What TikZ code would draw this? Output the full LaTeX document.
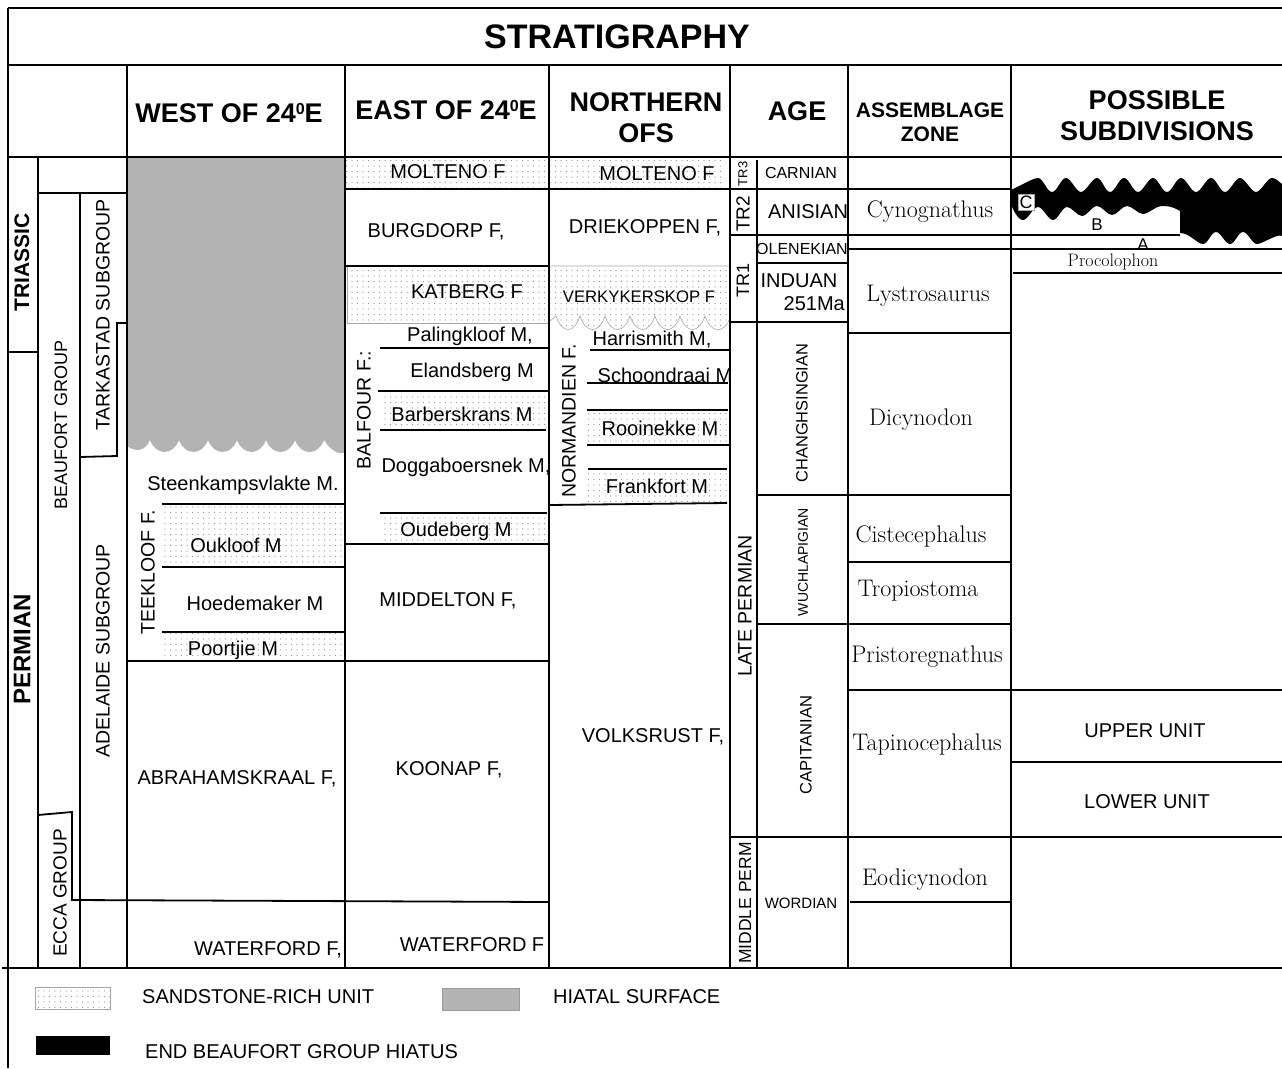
\documentclass[tikz,border=0pt]{standalone}
\usepackage{fontspec}
\setsansfont{Liberation Sans}
\usetikzlibrary{patterns.meta}
\definecolor{hiatusgray}{RGB}{179,179,179}
\newcommand{\degsup}{{\fontsize{16}{16}\selectfont\raisebox{8pt}{0}}}
\begin{document}
\begin{tikzpicture}[x=1pt,y=-1pt,
 ln/.style={line width=1.8pt},
 thinln/.style={line width=0.6pt, draw=gray!70},
 sand/.style={pattern={Dots[distance=5.5pt,radius=0.55pt]}, pattern color=gray!85},
 txt/.style={font=\sffamily\fontsize{#1}{#1}\selectfont, inner sep=0pt},
 txt/.default=20,
 hd/.style={font=\sffamily\bfseries\fontsize{#1}{#1}\selectfont, inner sep=0pt, align=center},
 hd/.default=27,
 zn/.style={font=\rmfamily\fontsize{#1}{#1}\selectfont, inner sep=0pt},
 zn/.default=24,
 vt/.style={rotate=90}
]
\useasboundingbox (0,0) rectangle (1282,1068);

% ---------- sandstone fills ----------
\fill[sand] (345,157) rectangle (549,189);
\fill[sand] (549,157) rectangle (725,189);
\filldraw[sand, thinln] (347,266) rectangle (549,323);
\filldraw[sand, thinln] (549,266) -- (730,266) -- (730,318)
  .. controls (724,334) and (711,334) .. (705,316)
  .. controls (699,334) and (686,334) .. (680,316)
  .. controls (674,334) and (661,334) .. (655,316)
  .. controls (649,334) and (636,334) .. (630,316)
  .. controls (624,334) and (611,334) .. (605,316)
  .. controls (599,334) and (586,334) .. (580,316)
  .. controls (574,334) and (562,334) .. (556,316)
  -- (549,322) -- cycle;
\fill[sand] (380,391) rectangle (549,430);
\fill[sand] (380,513) rectangle (549,544);
\fill[sand] (587,410) rectangle (728,445);
\fill[sand] (588,469) rectangle (727,503);
\fill[sand] (162,504) rectangle (345,567);
\fill[sand] (160,632) rectangle (345,661);

% ---------- hiatal surface (west) ----------
\fill[hiatusgray] (127,157) -- (345,157) -- (345,452)
 .. controls (340,456) and (330,450) .. (324,440)
 .. controls (318,456) and (301,456) .. (295,440)
 .. controls (289,456) and (272,456) .. (266,440)
 .. controls (260,456) and (243,456) .. (237,440)
 .. controls (231,456) and (214,456) .. (208,440)
 .. controls (202,456) and (185,456) .. (179,440)
 .. controls (173,456) and (156,456) .. (150,440)
 .. controls (145,452) and (135,452) .. (127,446) -- cycle;

% ---------- end Beaufort hiatus (black) ----------
\fill[black] (1011,190) .. controls (1020,186) and (1033,178) .. (1038,178)
 .. controls (1043,178) and (1047,192) .. (1052,192) .. controls (1057,192) and (1061,178) .. (1066,178)
 .. controls (1071,178) and (1076,192) .. (1081,192) .. controls (1086,192) and (1092,178) .. (1097,178)
 .. controls (1102,178) and (1105,192) .. (1110,192) .. controls (1115,192) and (1119,178) .. (1124,178)
 .. controls (1129,178) and (1133,192) .. (1138,192) .. controls (1143,192) and (1148,178) .. (1153,178)
 .. controls (1158,178) and (1162,192) .. (1167,192) .. controls (1172,192) and (1176,178) .. (1181,178)
 .. controls (1186,178) and (1191,192) .. (1196,192) .. controls (1201,192) and (1206,178) .. (1211,178)
 .. controls (1216,178) and (1220,192) .. (1225,192) .. controls (1230,192) and (1235,178) .. (1240,178)
 .. controls (1245,178) and (1251,192) .. (1256,192) .. controls (1261,192) and (1267,178) .. (1272,178)
 .. controls (1276,178) and (1279,182) .. (1282,184)
 -- (1282,236)
 .. controls (1278,233) and (1262,244) .. (1257,244)
 .. controls (1252,244) and (1248,232) .. (1243,232) .. controls (1238,232) and (1235,244) .. (1230,244)
 .. controls (1225,244) and (1221,232) .. (1216,232) .. controls (1211,232) and (1208,244) .. (1203,244)
 .. controls (1197,244) and (1190,233) .. (1180,233)
 -- (1180,211)
 .. controls (1172,206) and (1166,206) .. (1162,206) .. controls (1156,206) and (1148,214) .. (1143,214)
 .. controls (1138,214) and (1132,206) .. (1127,206) .. controls (1122,206) and (1117,215) .. (1112,215)
 .. controls (1107,215) and (1102,206) .. (1097,206) .. controls (1092,206) and (1087,216) .. (1082,216)
 .. controls (1077,216) and (1072,207) .. (1067,207) .. controls (1062,207) and (1058,220) .. (1053,220)
 .. controls (1048,220) and (1043,207) .. (1038,207) .. controls (1033,207) and (1028,220) .. (1023,220)
 .. controls (1018,220) and (1013,210) .. (1011,204) -- cycle;

% ---------- frame ----------
\draw[ln] (8,8) -- (1282,8);
\draw[ln] (8,8) -- (8,1068);
\draw[ln] (8,65) -- (1282,65);
\draw[ln] (8,157) -- (1282,157);
\draw[ln] (2,968) -- (1282,968);
\foreach \xx in {127,345,549,730,848,1011} \draw[ln] (\xx,65) -- (\xx,968);
\draw[ln] (38,157) -- (38,968);
\draw[ln] (757,160) -- (757,968);

% ---------- left columns ----------
\draw[ln] (8,352) -- (38,352);
\draw[ln] (38,193) -- (127,193);
\draw[ln] (80,193) -- (80,968);
\draw[ln] (127,323) -- (117,323) -- (117,456) -- (80,457);
\draw[ln] (38,815) -- (72,812) -- (72,900) -- (549,902);

% ---------- west ----------
\draw[ln] (162,504) -- (345,504);
\draw[ln] (162,567) -- (345,567);
\draw[ln] (162,632) -- (345,632);
\draw[ln] (127,661) -- (549,661);

% ---------- east ----------
\draw[ln] (345,189) -- (1011,189);
\draw[ln] (345,266) -- (549,266);
\draw[ln] (380,348) -- (549,348);
\draw[ln] (378,391) -- (549,391);
\draw[ln] (380,430) -- (546,430);
\draw[ln] (380,513) -- (547,513);
\draw[ln] (345,544) -- (549,544);

% ---------- northern ----------
\draw[ln] (590,350) -- (730,350);
\draw[ln] (587,383) -- (728,383);
\draw[ln] (587,410) -- (728,410);
\draw[ln] (587,445) -- (730,445);
\draw[ln] (588,469) -- (727,469);
\draw[ln] (549,505) -- (727,503);

% ---------- age ----------
\draw[ln] (730,235) -- (1180,235);
\draw[ln] (757,263) -- (848,263);
\draw[ln] (730,322) -- (848,322);
\draw[ln] (757,495) -- (1011,495);
\draw[ln] (757,624) -- (1011,624);
\draw[ln] (730,837) -- (1282,837);

% ---------- zones / subdivisions ----------
\draw[ln] (848,249) -- (1282,249);
\draw[ln] (848,333) -- (1011,333);
\draw[ln] (848,562) -- (1011,562);
\draw[ln] (848,690) -- (1282,690);
\draw[ln] (850,902) -- (1011,902);
\draw[ln] (1013,273) -- (1282,273);
\draw[ln] (1011,762) -- (1282,762);

% ---------- title & headers ----------
\node[hd=34] (title) at (617,37) {STRATIGRAPHY};
\node[hd] (hwest) at (229,113) {WEST OF 24\degsup E};
\node[hd] (heast) at (446,110) {EAST OF 24\degsup E};
\node[hd] (hnorth) at (646,118) {NORTHERN\\[4pt]OFS};
\node[hd] (hage) at (797,111) {AGE};
\node[hd=21] (hzone) at (930,122) {ASSEMBLAGE\\[3pt]ZONE};
\node[hd] (hsub) at (1157,116) {POSSIBLE\\[4pt]SUBDIVISIONS};

% ---------- rotated labels ----------
\node[hd=21, vt] (triassic) at (22,262) {TRIASSIC};
\node[hd=24, vt] (permian) at (22,649) {PERMIAN};
\node[txt=18, vt] (beaufort) at (61,425) {BEAUFORT GROUP};
\node[txt=19.5, vt] (tarkastad) at (103,315) {TARKASTAD SUBGROUP};
\node[txt=19.5, vt] (adelaide) at (103,651) {ADELAIDE SUBGROUP};
\node[txt=19, vt] (ecca) at (60,893) {ECCA GROUP};
\node[txt=19.5, vt] (teekloof) at (148,572) {TEEKLOOF F.};
\node[txt=19.5, vt] (balfour) at (364,410) {BALFOUR F.:};
\node[txt=19.5, vt] (normandien) at (569,421) {NORMANDIEN F.};
\node[txt=19.5, vt] (lateperm) at (745,606) {LATE PERMIAN};
\node[txt=17.5, vt] (midperm) at (745,903) {MIDDLE PERM};
\node[txt=13, vt] (tr3) at (743,174) {TR3};
\node[txt=19, vt] (tr2) at (743,214) {TR2};
\node[txt=18, vt] (tr1) at (743,280) {TR1};
\node[txt=16.4, vt] (chang) at (802,413) {CHANGHSINGIAN};
\node[txt=14, vt] (wuch) at (803,562) {WUCHLAPIGIAN};
\node[txt=16.6, vt] (capit) at (806,745) {CAPITANIAN};

% ---------- west column text ----------
\node[txt] (steen) at (243,485) {Steenkampsvlakte M.};
\node[txt] (oukloof) at (236,545) {Oukloof M};
\node[txt] (hoede) at (255,603) {Hoedemaker M};
\node[txt] (poortjie) at (233,650) {Poortjie M};
\node[txt] (abraham) at (237,779) {ABRAHAMSKRAAL F,};
\node[txt] (waterw) at (268,950) {WATERFORD F,};

% ---------- east column text ----------
\node[txt] (moltE) at (448,172) {MOLTENO F};
\node[txt] (burg) at (436,232) {BURGDORP F,};
\node[txt] (katberg) at (467,292) {KATBERG F};
\node[txt] (paling) at (470,336) {Palingkloof M,};
\node[txt] (elands) at (472,372) {Elandsberg M};
\node[txt] (barber) at (462,414) {Barberskrans M};
\node[txt] (dogga) at (466,467) {Doggaboersnek M,};
\node[txt] (oude) at (456,531) {Oudeberg M};
\node[txt] (middel) at (448,601) {MIDDELTON F,};
\node[txt] (koonap) at (449,770) {KOONAP F,};
\node[txt] (watere) at (472,945) {WATERFORD F};

% ---------- northern column text ----------
\node[txt] (moltN) at (657,174) {MOLTENO F};
\node[txt] (drie) at (645,228) {DRIEKOPPEN F,};
\node[txt=16.7] (verky) at (639,297) {VERKYKERSKOP F};
\node[txt] (harri) at (652,340) {Harrismith M,};
\node[txt] (schoon) at (665,375) {Schoondraai M};
\node[txt] (rooi) at (660,428) {Rooinekke M};
\node[txt] (frank) at (657,486) {Frankfort M};
\node[txt] (volks) at (653,737) {VOLKSRUST F,};

% ---------- stages ----------
\node[txt=16] (carnian) at (801,173) {CARNIAN};
\node[txt] (anisian) at (808,212) {ANISIAN};
\node[txt=16] (olenek) at (802,249) {OLENEKIAN};
\node[txt] (induan) at (799,281) {INDUAN};
\node[txt, anchor=east] (ma) at (845,304) {251Ma};
\node[txt=15] (wordian) at (801,903) {WORDIAN};

% ---------- assemblage zones ----------
\node[zn] (cyno) at (930,212) {Cynognathus};
\node[zn] (lystro) at (928,296) {Lystrosaurus};
\node[zn] (dicy) at (921,420) {Dicynodon};
\node[zn] (ciste) at (921,536) {Cistecephalus};
\node[zn] (tropio) at (918,591) {Tropiostoma};
\node[zn] (pristo) at (927,657) {Pristoregnathus};
\node[zn] (tapino) at (927,745) {Tapinocephalus};
\node[zn] (eodicy) at (925,880) {Eodicynodon};

% ---------- possible subdivisions ----------
\node[txt=18, fill=white, draw=gray!70, line width=0.6pt, inner sep=1.5pt] (labC) at (1026,202) {C};
\node[txt=17] (labB) at (1097,225) {B};
\node[txt=17] (labA) at (1143,245) {A};
\node[zn=18] (procol) at (1113,262) {Procolophon};
\node[txt] (upper) at (1145,731) {UPPER UNIT};
\node[txt] (lower) at (1147,802) {LOWER UNIT};

% ---------- legend ----------
\filldraw[sand, thinln] (35,987) rectangle (110,1009);
\node[txt, anchor=west] (legsand) at (142,997) {SANDSTONE-RICH UNIT};
\filldraw[fill=hiatusgray, draw=gray!80, line width=0.6pt] (442,988) rectangle (519,1010);
\node[txt, anchor=west] (leghiat) at (553,997) {HIATAL SURFACE};
\fill[black] (36,1036) rectangle (110,1055);
\node[txt, anchor=west] (legend) at (145,1052) {END BEAUFORT GROUP HIATUS};
\end{tikzpicture}
\end{document}
